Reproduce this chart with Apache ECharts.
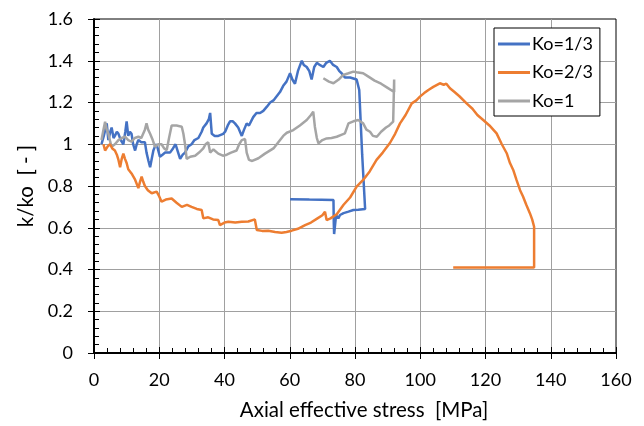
<!DOCTYPE html>
<html>
<head>
<meta charset="utf-8">
<script src="https://cdn.jsdelivr.net/npm/echarts@6/dist/echarts.min.js"></script>
<style>
html,body{margin:0;padding:0;background:#fff;}
#chart{width:644px;height:426px;}
</style>
</head>
<body>
<div id="chart"></div>
<script>
// ---- Data (x = axial effective stress [MPa], y = k/ko [-]) ----
const seriesNames = ['Ko=1/3', 'Ko=2/3', 'Ko=1'];
const xTicks = [0, 20, 40, 60, 80, 100, 120, 140, 160];
const yTicks = [0, 0.2, 0.4, 0.6, 0.8, 1, 1.2, 1.4, 1.6];

const ko13 = [
  [2.3,1.00],[3.0,1.04],[3.9,1.10],[4.4,1.02],[5.0,1.06],[5.4,1.08],[6.0,1.03],[6.4,1.04],[7.0,1.06],[7.5,1.05],
  [8.2,1.02],[9.0,1.00],[9.6,1.06],[10.0,1.11],[10.5,1.04],[11.0,1.06],[11.5,1.05],[12.0,1.00],[12.6,0.97],[13.1,1.00],
  [13.6,1.02],[14.5,1.01],[15.6,1.01],[16.1,0.96],[16.7,0.92],[17.2,0.89],[17.7,0.93],[18.2,0.97],[18.7,0.99],[19.2,1.00],
  [19.7,0.97],[20.2,0.94],[21.0,0.95],[21.8,0.96],[23.3,0.96],[24.2,0.98],[25.0,1.00],[25.6,0.97],[26.4,0.93],[27.2,0.95],
  [27.9,0.96],[28.9,0.99],[29.9,1.00],[30.8,1.02],[32.0,1.03],[33.0,1.06],[33.5,1.08],[34.5,1.10],[35.2,1.12],[35.6,1.15],
  [36.1,1.05],[37.0,1.04],[38.1,1.04],[39.6,1.05],[40.2,1.06],[41.0,1.09],[41.7,1.11],[42.5,1.11],[43.2,1.10],[44.2,1.08],
  [45.3,1.04],[46.0,1.07],[46.8,1.10],[47.5,1.09],[48.8,1.13],[49.8,1.15],[50.9,1.15],[51.9,1.16],[53.0,1.18],[54.0,1.20],
  [55.0,1.21],[56.0,1.23],[57.0,1.25],[58.0,1.28],[59.0,1.30],[60.1,1.34],[60.8,1.31],[61.6,1.29],[62.5,1.35],[63.2,1.38],
  [63.7,1.40],[64.3,1.38],[65.2,1.37],[66.0,1.35],[66.7,1.31],[67.5,1.37],[68.3,1.39],[69.2,1.38],[70.3,1.37],[71.2,1.39],
  [72.3,1.40],[73.3,1.38],[74.4,1.37],[75.2,1.35],[75.9,1.34],[76.9,1.32],[78.5,1.32],[80.5,1.31],[81.3,1.26],[82.2,0.95],
  [83.1,0.69],[81.0,0.686],[79.5,0.685],[78.0,0.677],[76.5,0.67],[75.4,0.661],[74.9,0.645],[74.2,0.66],[73.8,0.60],[73.6,0.57],
  [73.5,0.62],[73.4,0.733],[66.0,0.735],[60.1,0.737]
];

const ko23 = [
  [2.9,1.00],[3.4,0.97],[4.2,0.99],[4.9,1.00],[5.6,0.98],[6.4,0.97],[7.0,0.95],[7.5,0.925],[8.0,0.89],[8.5,0.93],
  [9.0,0.955],[9.5,0.93],[10.0,0.91],[10.5,0.88],[11.5,0.86],[12.6,0.83],[13.6,0.79],[14.1,0.82],[14.6,0.845],[15.1,0.82],
  [15.6,0.80],[16.5,0.78],[17.7,0.765],[19.2,0.773],[20.0,0.75],[20.7,0.725],[22.0,0.735],[23.8,0.74],[25.3,0.72],[26.9,0.70],
  [28.5,0.71],[29.9,0.70],[31.5,0.69],[33.0,0.685],[33.5,0.645],[35.0,0.65],[36.5,0.64],[38.1,0.637],[38.6,0.613],[40.0,0.625],
  [41.2,0.629],[43.3,0.625],[45.3,0.629],[47.3,0.63],[49.3,0.64],[49.9,0.589],[51.5,0.585],[53.4,0.586],[55.5,0.58],[57.5,0.576],
  [59.0,0.58],[60.6,0.586],[62.5,0.595],[64.7,0.613],[66.5,0.625],[68.5,0.645],[70.0,0.66],[70.8,0.677],[71.3,0.637],[72.5,0.645],
  [74.4,0.665],[76.5,0.71],[78.5,0.745],[80.5,0.797],[82.5,0.829],[84.5,0.87],[86.6,0.925],[88.5,0.96],[90.7,1.006],[92.3,1.05],
  [93.8,1.10],[95.5,1.14],[97.4,1.196],[98.8,1.21],[99.9,1.228],[101.2,1.245],[102.5,1.26],[104.0,1.275],[106.0,1.292],[107.2,1.285],
  [108.0,1.29],[109.1,1.268],[110.5,1.25],[112.0,1.23],[114.2,1.196],[116.0,1.17],[117.5,1.14],[119.3,1.116],[121.2,1.09],[123.4,1.052],
  [125.0,1.00],[126.5,0.957],[127.5,0.91],[128.5,0.877],[129.5,0.829],[130.6,0.78],[131.5,0.75],[132.5,0.71],[133.6,0.67],[134.3,0.64],
  [134.9,0.605],[134.9,0.41],[110.1,0.41]
];

const ko1 = [
  [2.3,1.02],[2.9,1.07],[3.4,1.108],[3.9,1.07],[4.4,1.052],[5.0,1.01],[5.4,0.988],[6.4,1.00],[7.5,1.02],[8.5,1.03],
  [9.5,1.036],[10.5,1.02],[11.5,1.012],[12.5,1.03],[13.6,1.036],[14.5,1.03],[15.1,1.028],[15.6,1.07],[16.1,1.10],[16.6,1.07],
  [17.2,1.05],[18.0,1.02],[18.7,0.988],[19.7,1.00],[20.7,1.00],[21.5,0.98],[22.3,0.972],[23.0,1.03],[23.8,1.09],[25.3,1.09],
  [26.9,1.084],[27.4,1.05],[27.9,1.00],[28.4,0.93],[29.5,0.94],[31.0,0.945],[32.2,0.96],[33.5,0.98],[34.2,1.00],[35.0,1.01],
  [35.6,0.96],[36.6,0.975],[38.1,0.955],[39.5,0.945],[40.7,0.95],[42.0,0.96],[43.7,0.97],[44.5,1.00],[45.3,1.02],[46.3,1.025],
  [46.8,0.96],[47.5,0.925],[48.5,0.92],[50.4,0.933],[52.4,0.955],[55.0,0.98],[56.5,1.01],[58.0,1.04],[59.1,1.055],[61.1,1.068],
  [63.1,1.09],[65.2,1.116],[66.5,1.14],[67.2,1.156],[67.7,1.084],[68.3,1.03],[68.8,1.004],[70.0,1.02],[71.3,1.028],[72.8,1.03],
  [74.4,1.036],[75.8,1.045],[76.9,1.052],[78.0,1.10],[79.5,1.11],[81.0,1.116],[82.5,1.10],[83.5,1.07],[84.6,1.06],[85.5,1.04],
  [86.7,1.036],[88.0,1.06],[89.5,1.08],[90.5,1.09],[91.7,1.108],[92.0,1.31],[92.0,1.25],[90.0,1.27],[88.0,1.29],[86.0,1.305],
  [84.0,1.325],[82.5,1.34],[80.5,1.345],[79.5,1.348],[78.0,1.34],[76.4,1.332],[75.0,1.31],[73.4,1.292],[72.0,1.30],[70.3,1.316]
];

const colors = ['#4472C4', '#ED7D31', '#A5A5A5'];
const FONT = 'Lato';
const NAME_FONT = 'Lato';
const TXT = '#000';

const xMin = xTicks[0], xMax = xTicks[xTicks.length - 1], xStep = xTicks[1] - xTicks[0];
const yMin = yTicks[0], yMax = yTicks[yTicks.length - 1], yStep = +(yTicks[1] - yTicks[0]).toFixed(2);

const chart = echarts.init(document.getElementById('chart'), null, {renderer: 'canvas'});

const blackLine = {color: '#000', width: 1};
const baseX = {type: 'value', min: xMin, max: xMax, interval: xStep, gridIndex: 0, position: 'bottom'};
const baseY = {type: 'value', min: yMin, max: yMax, interval: yStep, gridIndex: 0, position: 'left'};

chart.setOption({
  animation: false,
  backgroundColor: '#fff',
  textStyle: {fontFamily: FONT},
  grid: {left: 94, right: 28, top: 19, bottom: 73, show: true, borderColor: '#000', borderWidth: 1,
         containLabel: false, outerBoundsMode: 'none'},
  legend: {
    orient: 'vertical', left: 494, top: 28,
    data: seriesNames.map((n) => ({name: n, icon: 'rect'})),
    itemWidth: 32, itemHeight: 3, itemGap: 10.5,
    padding: [7, 7, 6, 4],
    backgroundColor: '#fff', borderColor: '#000', borderWidth: 1,
    textStyle: {fontFamily: FONT, fontSize: 18, color: TXT, padding: [0, 0, 0, -3]}
  },
  xAxis: [
    Object.assign({}, baseX, {
      name: 'Axial effective stress  [MPa]', nameLocation: 'middle', nameGap: 47,
      nameTextStyle: {fontFamily: NAME_FONT, fontSize: 20.5, color: TXT, padding: [0, 0, 0, 18]},
      axisLine: {show: true, onZero: false, lineStyle: {color: '#000', width: 2}},
      axisTick: {show: true, inside: true, length: 6, lineStyle: blackLine},
      minorTick: {show: true, splitNumber: 5, length: 5, lineStyle: blackLine},
      axisLabel: {fontFamily: FONT, fontSize: 18, color: TXT, margin: 18},
      splitLine: {show: true, showMinLine: false, showMaxLine: false, lineStyle: {color: '#a0a0a0', width: 1}}
    }),
    Object.assign({}, baseX, {
      axisLine: {show: false}, axisLabel: {show: false}, splitLine: {show: false},
      axisTick: {show: true, inside: false, length: 6, lineStyle: blackLine}
    })
  ],
  yAxis: [
    Object.assign({}, baseY, {
      name: 'k/ko  [ - ]', nameLocation: 'middle', nameGap: 48,
      nameTextStyle: {fontFamily: NAME_FONT, fontSize: 20.5, color: TXT},
      axisLine: {show: true, onZero: false, lineStyle: {color: '#000', width: 2}},
      axisTick: {show: true, inside: true, length: 6, lineStyle: blackLine},
      minorTick: {show: true, splitNumber: 5, length: 5, lineStyle: blackLine},
      axisLabel: {fontFamily: FONT, fontSize: 18, color: TXT, margin: 21},
      splitLine: {show: true, showMinLine: false, showMaxLine: false, lineStyle: {color: '#a0a0a0', width: 1}}
    }),
    Object.assign({}, baseY, {
      axisLine: {show: false}, axisLabel: {show: false}, splitLine: {show: false},
      axisTick: {show: true, inside: false, length: 6, lineStyle: blackLine}
    })
  ],
  series: [ko13, ko23, ko1].map((d, i) => ({
    name: seriesNames[i], type: 'line', data: d, xAxisIndex: 0, yAxisIndex: 0,
    symbol: 'none', showSymbol: false, smooth: false,
    lineStyle: {color: colors[i], width: 2.5}, itemStyle: {color: colors[i]},
    z: 3 + (i === 1 ? 1 : 0)
  }))
});
</script>
</body>
</html>
